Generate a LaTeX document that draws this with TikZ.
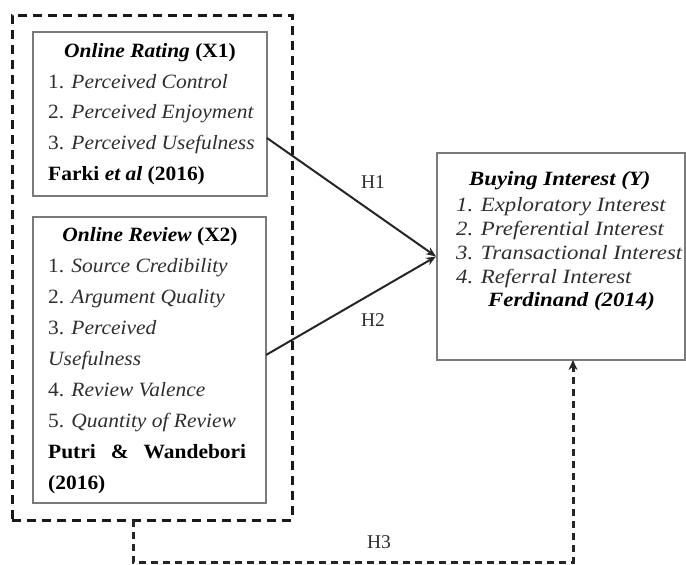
\documentclass[tikz,border=0pt]{standalone}
\usepackage{fontspec}
\usepackage{graphicx}
\setmainfont{Liberation Serif}
\usetikzlibrary{arrows.meta}
\definecolor{txt}{HTML}{2E2E2E}
\definecolor{bord}{HTML}{7A7A7A}
\newcommand{\lx}[1]{\scalebox{1.1}[1.04]{#1}}
\newcommand{\ly}[1]{\scalebox{1.17}[1.04]{#1}}
\tikzset{
  box/.style={draw=bord, line width=2pt, rectangle, inner sep=0pt},
  grpbox/.style={draw=black!90, line width=3pt, dash pattern=on 9pt off 6pt, rectangle, inner sep=0pt},
  lt/.style={anchor=base west, inner sep=0pt, font=\fontsize{19.5}{19.5}\selectfont, text=txt},
  lh/.style={anchor=base, inner sep=0pt, font=\fontsize{19.5}{19.5}\selectfont, text=black},
  hl/.style={inner sep=0pt, font=\fontsize{19.5}{19.5}\selectfont, text=txt},
  arr/.style={draw=black!85, line width=2pt, -{Stealth[length=10pt,width=8pt]}},
  darr/.style={draw=black!85, line width=3pt, dash pattern=on 7pt off 5pt, -{Stealth[length=10pt,width=9pt]}}
}
\begin{document}
\begin{tikzpicture}[x=1pt,y=-1pt]
\useasboundingbox (0,0) rectangle (686,565);
% boxes
\node[grpbox, minimum width=280pt, minimum height=505pt] (grp) at (152,267.5) {};
\node[box, minimum width=234pt, minimum height=164pt] (x1) at (150,114) {};
\node[box, minimum width=233pt, minimum height=286pt] (x2) at (149.5,360) {};
\node[box, minimum width=248pt, minimum height=207pt] (y) at (561,256.5) {};
% X1 text
\node[lh] (x1t) at (150,57) {\lx{\textbf{\textit{Online Rating}} \textbf{(X1)}}};
\node[lt] (x1a) at (48,88) {\lx{1. \textit{Perceived Control}}};
\node[lt] (x1b) at (48,118.5) {\lx{2. \textit{Perceived Enjoyment}}};
\node[lt] (x1c) at (48,149) {\lx{3. \textit{Perceived Usefulness}}};
\node[lt, text=black] (x1d) at (48,180) {\lx{\textbf{Farki \textit{et al} (2016)}}};
% X2 text
\node[lh] (x2t) at (150,241) {\lx{\textbf{\textit{Online Review}} \textbf{(X2)}}};
\node[lt] (x2a) at (48,272) {\lx{1. \textit{Source Credibility}}};
\node[lt] (x2b) at (48,303) {\lx{2. \textit{Argument Quality}}};
\node[lt] (x2c) at (48,334) {\lx{3. \textit{Perceived}}};
\node[lt] (x2d) at (48,365) {\lx{\textit{Usefulness}}};
\node[lt] (x2e) at (48,396) {\lx{4. \textit{Review Valence}}};
\node[lt] (x2f) at (48,427) {\lx{5. \textit{Quantity of Review}}};
\node[lt, text=black] (x2g) at (48,458) {\makebox[198pt]{\lx{\textbf{Putri}}\hfill\lx{\textbf{\&}}\hfill\lx{\textbf{Wandebori}}}};
\node[lt, text=black] (x2h) at (48,489) {\lx{\textbf{(2016)}}};
% Y text
\node[lt, text=black] (yt) at (469,185) {\ly{\textbf{\textit{Buying Interest (Y)}}}};
\node[lt] (ya) at (456,211) {\ly{\textit{1. Exploratory Interest}}};
\node[lt] (yb) at (456,235) {\ly{\textit{2. Preferential Interest}}};
\node[lt] (yc) at (456,259) {\ly{\textit{3. Transactional Interest}}};
\node[lt] (yd) at (456,283) {\ly{\textit{4. Referral Interest}}};
\node[lt, text=black] (ye) at (488,306) {\ly{\textbf{\textit{Ferdinand (2014)}}}};
% connectors
\coordinate (h1s) at (267,138);
\coordinate (h2s) at (266,355);
\draw[arr] (h1s) -- (y.west);
\draw[arr] (h2s) -- (y.west);
\node[hl] (h1) at (373,182) {H1};
\node[hl] (h2) at (373,320) {H2};
\coordinate (h3s) at (133,520);
\coordinate (h3c) at (133,562);
\coordinate (h3e) at (573,360);
\draw[darr] (h3s) -- (h3c) -| (h3e);
\node[hl] (h3) at (379,542) {H3};
\end{tikzpicture}
\end{document}
